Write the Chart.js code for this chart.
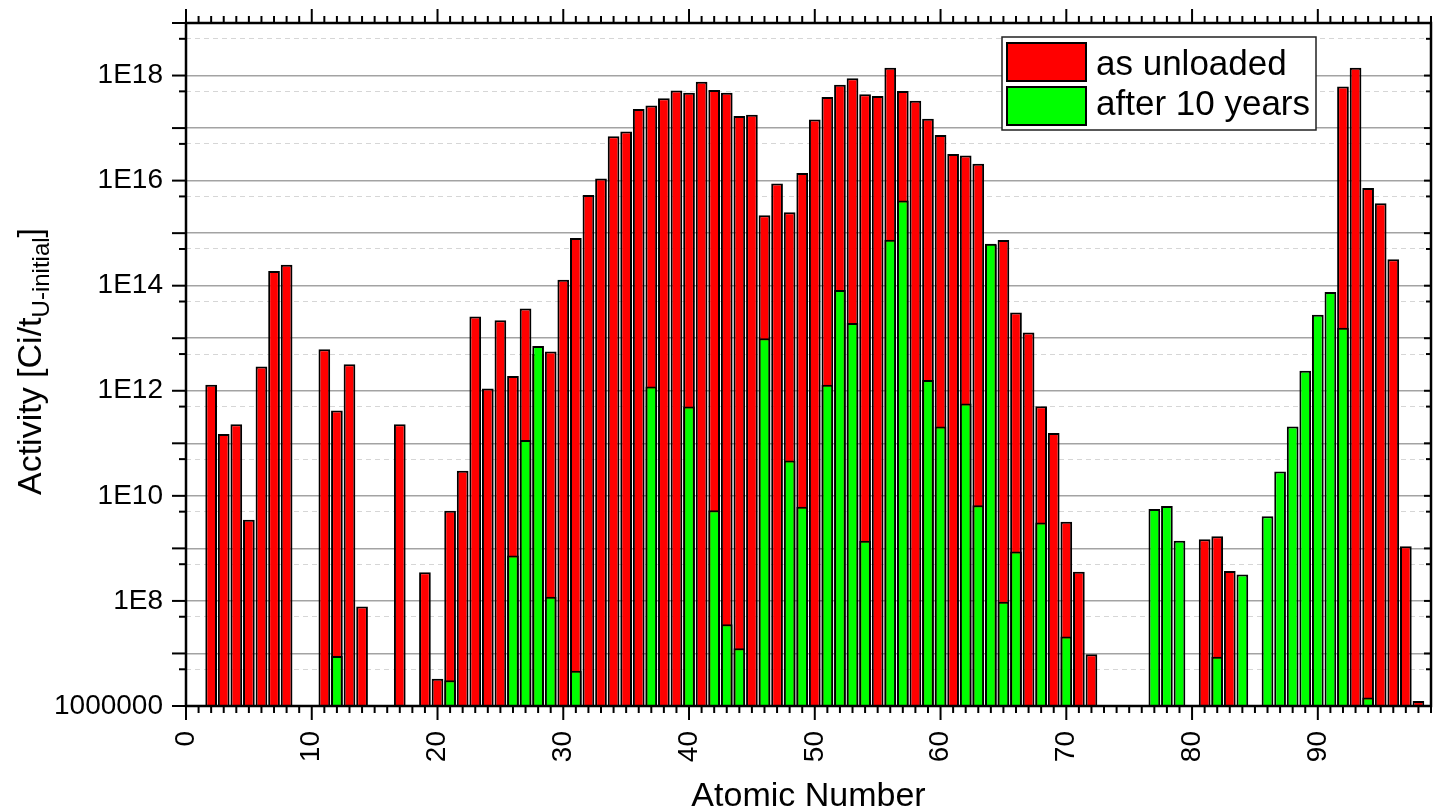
<!DOCTYPE html>
<html>
<head>
<meta charset="utf-8">
<script src="https://cdn.jsdelivr.net/npm/chart.js@4.4.1/dist/chart.umd.min.js"></script>
<style>
  html, body { margin: 0; padding: 0; background: #fff; }
  #wrap { width: 1441px; height: 811px; }
</style>
</head>
<body>
<div id="wrap"><canvas id="activityChart" width="1441" height="811"></canvas></div>
<script>
// atomic numbers 2..98 (null = no bar)
const atomicNumbers = [];
for (let z = 2; z <= 98; z++) atomicNumbers.push(z);

const asUnloaded = [
  1.3e12, 1.5e11, 2.3e11, 3.5e9, 2.9e12, 1.9e14, 2.5e14, null, null,          // 2-10
  6.2e12, 4.2e11, 3.2e12, 7.8e7, null, null, 2.3e11, null, 3.5e8, 3.3e6,       // 11-20
  5.2e9, 3.0e10, 2.6e13, 1.1e12, 2.2e13, 1.9e12, 3.7e13, 5.0e12, 5.6e12, 1.3e14, // 21-30
  8.1e14, 5.3e15, 1.1e16, 7.0e16, 8.6e16, 2.3e17, 2.7e17, 3.7e17, 5.2e17, 4.7e17, // 31-40
  7.6e17, 5.3e17, 4.7e17, 1.7e17, 1.8e17, 2.2e15, 8.8e15, 2.5e15, 1.4e16, 1.46e17, // 41-50
  3.9e17, 6.7e17, 8.9e17, 4.4e17, 4.1e17, 1.4e18, 5.1e17, 3.3e17, 1.5e17, 7.4e16, // 51-60
  3.2e16, 3.0e16, 2.1e16, 6.0e14, 7.4e14, 3.1e13, 1.28e13, 5.1e11, 1.57e11, 3.2e9, // 61-70
  3.6e8, 9.7e6, null, null, null, null, null, null, null, null,                // 71-80
  1.5e9, 1.7e9, 3.7e8, null, null, null, null, null, null, null,               // 81-90
  null, 6.2e17, 1.4e18, 7.2e15, 3.7e15, 3.2e14, 1.1e9, 1.25e6                  // 91-98
];

const after10Years = [
  null, null, null, null, null, null, null, null, null,                        // 2-10
  null, 8.9e6, null, null, null, null, null, null, null, null,                 // 11-20
  3.1e6, null, null, null, null, 7.3e8, 1.15e11, 7.1e12, 1.2e8, null,          // 21-30
  4.7e6, null, null, null, null, null, 1.2e12, null, null, 5.0e11,             // 31-40
  null, 5.3e9, 3.6e7, 1.26e7, null, 1.0e13, null, 4.7e10, 6.2e9, null,         // 41-50
  1.3e12, 8.3e13, 1.96e13, 1.4e9, null, 7.5e14, 4.2e15, null, 1.6e12, 2.1e11,  // 51-60
  null, 5.7e11, 6.6e9, 6.3e14, 9.6e7, 8.7e8, null, 3.1e9, null, 2.1e7,         // 61-70
  null, null, null, null, null, null, 5.6e9, 6.4e9, 1.4e9, null,               // 71-80
  null, 8.7e6, null, 3.2e8, null, 4.1e9, 2.9e10, 2.1e11, 2.4e12, 2.8e13,       // 81-90
  7.6e13, 1.58e13, null, 1.45e6, null, null, null, null                        // 91-98
];

const seriesNames = ['as unloaded', 'after 10 years'];
const xTickValues = [0, 10, 20, 30, 40, 50, 60, 70, 80, 90];
const yLabelExponents = [6, 8, 10, 12, 14, 16, 18];
const yTickLabels = ['1000000', '1E8', '1E10', '1E12', '1E14', '1E16', '1E18'];

const FONT = '"Liberation Sans", Arial, sans-serif';

const toPoints = (vals) => atomicNumbers.map((z, i) => ({ x: z, y: vals[i] }));

// frame + tick marks on all four sides
const framePlugin = {
  id: 'frame',
  afterDatasetsDraw(chart) {
    const { ctx, chartArea: a, scales: { x, y } } = chart;
    ctx.save();
    ctx.strokeStyle = '#000';
    ctx.lineWidth = 2;
    const line = (x1, y1, x2, y2) => { ctx.beginPath(); ctx.moveTo(x1, y1); ctx.lineTo(x2, y2); ctx.stroke(); };
    for (let v = 0; v <= 99; v++) {
      const px = x.getPixelForValue(v);
      const len = v % 10 === 0 ? 14 : 7;
      line(px, a.bottom, px, a.bottom + len);
      line(px, a.top, px, a.top - len);
    }
    y.ticks.forEach(t => {
      const py = y.getPixelForValue(t.value);
      line(a.left - (t.major ? 14 : 7), py, a.left, py);
      line(a.right, py, a.right - (t.major ? 7 : 5), py);
    });
    ctx.lineWidth = 2.5;
    ctx.strokeRect(a.left, a.top, a.right - a.left, a.bottom - a.top);
    ctx.restore();
  }
};

// boxed legend inside the plot, y title with subscript
const extrasPlugin = {
  id: 'extras',
  afterDraw(chart) {
    const { ctx, chartArea: a } = chart;
    ctx.save();
    // legend
    const bx = a.right - 429, by = a.top + 14, bw = 314, bh = 93;
    ctx.fillStyle = '#fff';
    ctx.fillRect(bx, by, bw, bh);
    ctx.strokeStyle = '#222';
    ctx.lineWidth = 1.5;
    ctx.strokeRect(bx, by, bw, bh);
    chart.data.datasets.forEach((ds, i) => {
      const sy = by + 6 + i * 44;
      ctx.fillStyle = ds.backgroundColor;
      ctx.fillRect(bx + 5, sy, 79, 38);
      ctx.strokeStyle = '#000';
      ctx.lineWidth = 2;
      ctx.strokeRect(bx + 5, sy, 79, 38);
      ctx.fillStyle = '#000';
      ctx.font = '35px ' + FONT;
      ctx.textBaseline = 'alphabetic';
      ctx.fillText(ds.label, bx + 94, by + 38 + i * 39.5);
    });

    // y axis title
    const main = 'Activity [Ci/t', sub = 'U-initial', end = ']';
    ctx.font = '34px ' + FONT;
    const w1 = ctx.measureText(main).width;
    const w3 = ctx.measureText(end).width;
    ctx.font = '24px ' + FONT;
    const w2 = ctx.measureText(sub).width;
    const total = w1 + w2 + w3;
    const cy = (a.top + a.bottom) / 2 - 3;
    ctx.translate(41, cy + total / 2);
    ctx.rotate(-Math.PI / 2);
    ctx.fillStyle = '#000';
    ctx.textBaseline = 'alphabetic';
    ctx.font = '34px ' + FONT;
    ctx.fillText(main, 0, 0);
    ctx.font = '24px ' + FONT;
    ctx.fillText(sub, w1, 8);
    ctx.font = '34px ' + FONT;
    ctx.fillText(end, w1 + w2, 0);
    ctx.restore();
  }
};

const ctx = document.getElementById('activityChart').getContext('2d');
new Chart(ctx, {
  type: 'bar',
  data: {
    datasets: [{
      label: seriesNames[0],
      data: toPoints(asUnloaded),
      backgroundColor: '#ff0000',
      borderColor: '#000',
      borderWidth: 2,
      order: 1
    }, {
      label: seriesNames[1],
      data: toPoints(after10Years),
      backgroundColor: '#00ff00',
      borderColor: '#000',
      borderWidth: 2,
      order: 0
    }]
  },
  options: {
    responsive: false,
    animation: false,
    layout: { padding: { top: 23, right: 10, left: 0, bottom: 0 } },
    datasets: { bar: { grouped: false, barPercentage: 0.93, categoryPercentage: 1.0 } },
    plugins: { legend: { display: false }, tooltip: { enabled: false } },
    scales: {
      x: {
        type: 'linear',
        min: 0,
        max: 99,
        offset: false,
        grid: { display: false, offset: false },
        border: { display: false },
        afterBuildTicks: (s) => { s.ticks = xTickValues.map(v => ({ value: v })); },
        afterFit: (s) => { s.height = 105; },
        ticks: {
          autoSkip: false,
          minRotation: 90,
          maxRotation: 90,
          padding: 17,
          color: '#000',
          font: { family: FONT, size: 28 }
        },
        title: {
          display: true,
          text: 'Atomic Number',
          color: '#000',
          font: { family: FONT, size: 34, lineHeight: 1 },
          padding: { top: 0, bottom: -3 }
        }
      },
      y: {
        type: 'logarithmic',
        min: 1e6,
        max: 1e19,
        afterBuildTicks: (s) => {
          const t = [];
          for (let e = 6; e <= 19; e++) {
            t.push({ value: Math.pow(10, e), major: true });
            if (e < 19) t.push({ value: 5 * Math.pow(10, e), major: false });
          }
          s.ticks = t;
        },
        afterFit: (s) => { s.width = 186; s.paddingTop = 0; s.paddingBottom = 0; },
        grid: {
          drawTicks: false,
          color: (c) => (c.tick && c.tick.major) ? '#a3a3a3' : '#d6d6d6',
          lineWidth: (c) => (c.tick && c.tick.major) ? 1.5 : 1
        },
        border: {
          display: false,
          dash: (c) => (c.tick && c.tick.major) ? [] : [5, 4]
        },
        ticks: {
          autoSkip: false,
          padding: 23,
          color: '#000',
          font: { family: FONT, size: 28 },
          callback: (v) => {
            const e = Math.round(Math.log10(v));
            if (Math.abs(v - Math.pow(10, e)) / v > 1e-6) return '';
            const k = yLabelExponents.indexOf(e);
            return k >= 0 ? yTickLabels[k] : '';
          }
        }
      }
    }
  },
  plugins: [framePlugin, extrasPlugin]
});
</script>
</body>
</html>
